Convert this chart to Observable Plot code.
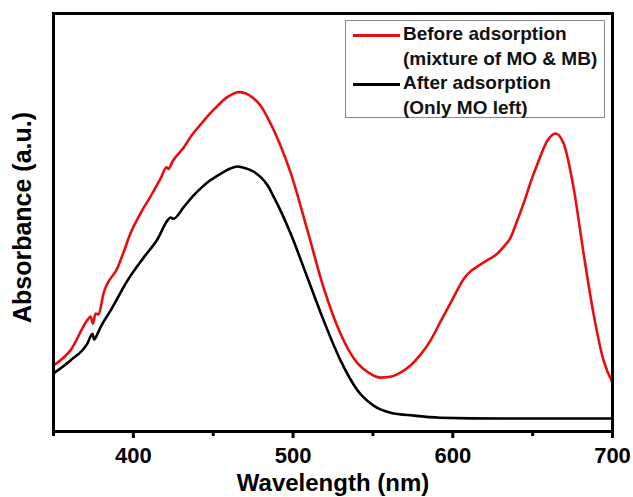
<!DOCTYPE html>
<html>
<head>
<meta charset="utf-8">
<script src="https://cdn.jsdelivr.net/npm/d3@7"></script>
<script src="https://cdn.jsdelivr.net/npm/@observablehq/plot@0.6"></script>
<style>
  body { margin: 0; background: #fff; font-family: "Liberation Sans", Arial, sans-serif; }
  #wrap { position: relative; width: 633px; height: 497px; }
  .legend {
    position: absolute; left: 345px; top: 20px; width: 260px; height: 98px;
    border: 1px solid #8a8a8a; background: #fff; box-sizing: border-box;
    padding-top: 1px;
  }
  .row { position: relative; height: 24.5px; line-height: 24.5px; padding-left: 57px;
         font-weight: bold; font-size: 19px; color: #111; white-space: nowrap; }
  .swatch { position: absolute; left: 7px; top: 11.5px; width: 47px; height: 3px; }
</style>
</head>
<body>
<div id="wrap"></div>
<script>
// UV-vis spectra of the dye solution (absorbance in arbitrary units)
const wavelengthBefore = [350.0, 360.6, 371.9, 373.2, 374.7, 376.3, 378.2, 381.3, 390.1, 393.8, 398.2, 404.5, 410.7, 417.0, 420.8, 422.0, 424.5, 431.4, 437.0, 442.0, 447.1, 452.7, 457.7, 462.1, 465.8, 470.2, 475.2, 479.6, 484.0, 487.8, 492.1, 498.4, 509.0, 519.1, 529.7, 540.4, 547.2, 554.8, 562.3, 567.3, 573.5, 579.8, 586.1, 592.3, 596.7, 601.7, 606.7, 611.1, 615.5, 620.5, 628.0, 633.0, 636.2, 639.9, 644.3, 648.7, 653.1, 659.3, 664.3, 669.4, 675.6, 681.9, 688.1, 694.4, 700.0];
const absorbanceBefore = [0.158, 0.194, 0.270, 0.275, 0.258, 0.282, 0.280, 0.330, 0.392, 0.428, 0.474, 0.522, 0.562, 0.605, 0.632, 0.628, 0.646, 0.679, 0.711, 0.734, 0.757, 0.779, 0.797, 0.807, 0.812, 0.809, 0.797, 0.780, 0.751, 0.722, 0.684, 0.620, 0.481, 0.344, 0.234, 0.163, 0.141, 0.129, 0.132, 0.141, 0.158, 0.184, 0.218, 0.263, 0.294, 0.330, 0.364, 0.383, 0.395, 0.407, 0.426, 0.447, 0.464, 0.500, 0.545, 0.596, 0.641, 0.696, 0.713, 0.689, 0.584, 0.426, 0.282, 0.170, 0.117];

const wavelengthAfter = [350.0, 360.6, 371.3, 374.4, 375.4, 377.6, 379.4, 385.7, 396.3, 406.4, 415.1, 421.4, 423.3, 425.1, 431.4, 437.0, 442.0, 447.1, 452.7, 458.9, 465.2, 470.2, 475.2, 479.6, 484.0, 487.8, 492.1, 498.4, 509.0, 519.1, 529.7, 540.4, 550.4, 561.0, 575.4, 592.3, 629.9, 667.5, 700.0];
const absorbanceAfter = [0.139, 0.170, 0.211, 0.234, 0.220, 0.234, 0.249, 0.289, 0.361, 0.416, 0.460, 0.505, 0.512, 0.509, 0.536, 0.562, 0.581, 0.598, 0.612, 0.626, 0.634, 0.630, 0.622, 0.609, 0.589, 0.562, 0.529, 0.474, 0.368, 0.266, 0.170, 0.098, 0.062, 0.045, 0.038, 0.033, 0.031, 0.031, 0.031];

const majorTicks = [400, 500, 600, 700];
const minorTicks = [350, 450, 550, 650];

const seriesLabels = [
  ["Before adsorption", "(mixture of MO & MB)"],
  ["After adsorption", "(Only MO left)"]
];
const seriesColors = ["#e60e0e", "#000000"];

const before = wavelengthBefore.map((w, i) => ({w, a: absorbanceBefore[i]}));
const after = wavelengthAfter.map((w, i) => ({w, a: absorbanceAfter[i]}));

const font = "'Liberation Sans', Arial, sans-serif";

const chart = Plot.plot({
  width: 633,
  height: 497,
  marginLeft: 53,
  marginRight: 21,
  marginTop: 13,
  marginBottom: 66,
  style: {fontFamily: font, background: "#fff", color: "#000"},
  x: {domain: [350, 700]},
  y: {domain: [0, 1], axis: null},
  marks: [
    Plot.line(before, {x: "w", y: "a", stroke: seriesColors[0], strokeWidth: 2.6, curve: "monotone-x"}),
    Plot.line(after, {x: "w", y: "a", stroke: seriesColors[1], strokeWidth: 2.6, curve: "monotone-x"}),
    Plot.axisX(majorTicks, {tickSize: 7, strokeWidth: 3, tickPadding: 9, fontSize: 22, fontWeight: "bold", label: null}),
    Plot.axisX(minorTicks, {tickSize: 5, strokeWidth: 3, tickFormat: () => "", label: null}),
    Plot.frame({stroke: "#000", strokeWidth: 3}),
    Plot.text(["Wavelength (nm)"], {frameAnchor: "bottom", lineAnchor: "bottom", dy: 59, fontSize: 24, fontWeight: "bold"}),
    Plot.text(["Absorbance (a.u.)"], {frameAnchor: "left", textAnchor: "middle", lineAnchor: "middle", rotate: -90, dx: -31, dy: -5, fontSize: 25, fontWeight: "bold"})
  ]
});

const wrap = document.getElementById("wrap");
wrap.appendChild(chart);

// legend box inside the plot area
const legend = document.createElement("div");
legend.className = "legend";
seriesLabels.forEach((lines, s) => {
  lines.forEach((txt, j) => {
    const row = document.createElement("div");
    row.className = "row";
    row.textContent = txt;
    if (j === 0) {
      const sw = document.createElement("span");
      sw.className = "swatch";
      sw.style.background = seriesColors[s];
      row.appendChild(sw);
    }
    legend.appendChild(row);
  });
});
wrap.appendChild(legend);
</script>
</body>
</html>
